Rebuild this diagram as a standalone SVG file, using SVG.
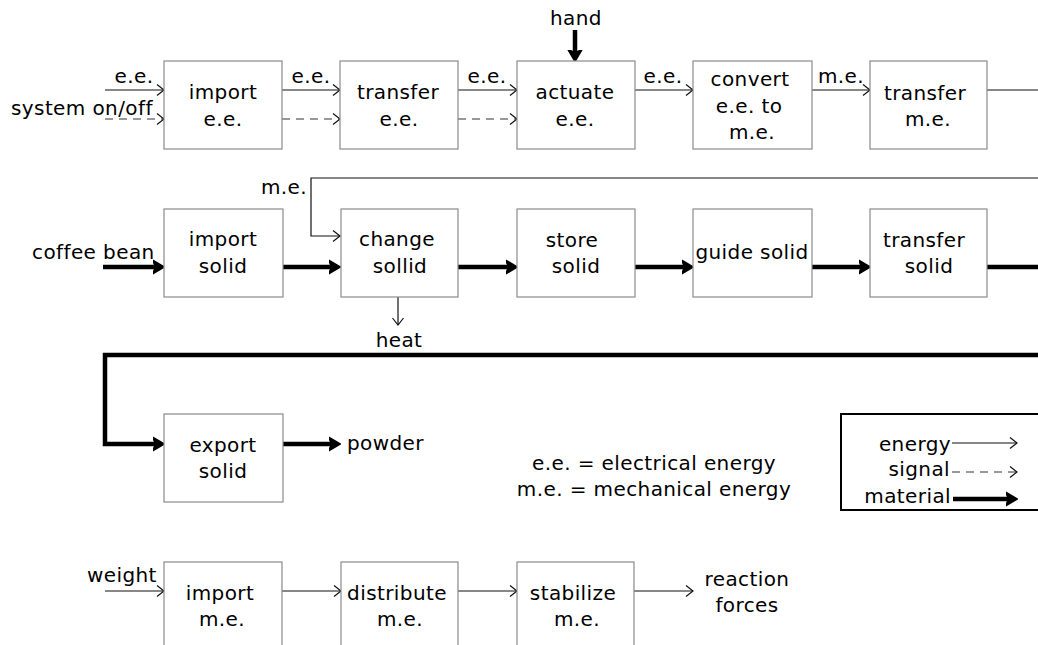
<svg xmlns="http://www.w3.org/2000/svg" width="1038" height="645" viewBox="0 0 1038 645">
<defs>
<style>
text{font-family:"DejaVu Sans","Liberation Sans",sans-serif;font-size:20px;letter-spacing:0.4px;fill:#000}
.m{text-anchor:middle}
.e{text-anchor:end}
.box{fill:#fff;stroke:#8a8a8a;stroke-width:1.2}
.en{fill:none;stroke:#111;stroke-width:1.2;marker-end:url(#open)}
.sig{fill:none;stroke:#333;stroke-width:1.2;stroke-dasharray:8,6;marker-end:url(#open)}
.mat{fill:none;stroke:#000;stroke-width:4.5;marker-end:url(#thick)}
</style>
<marker id="open" markerUnits="userSpaceOnUse" markerWidth="12" markerHeight="14" refX="9" refY="7" orient="auto">
<path d="M2,1.5 L9,7 L2,12.5" fill="none" stroke="#111" stroke-width="1.2"/>
</marker>
<marker id="thick" markerUnits="userSpaceOnUse" markerWidth="16" markerHeight="16" refX="8" refY="8" orient="auto">
<path d="M0,1.5 L11,8 L0,14.5 L3,8 Z" fill="#000" stroke="#000" stroke-width="2" stroke-linejoin="round"/>
</marker>
</defs>

<g id="connectors">
<path class="en" d="M105,90 H164"/>
<path class="sig" d="M105,119 H164"/>
<path class="en" d="M282,90 H340"/>
<path class="sig" d="M282,119 H340"/>
<path class="en" d="M458,90 H517"/>
<path class="sig" d="M458,119 H517"/>
<path class="en" d="M635,90 H693"/>
<path class="en" d="M812,90 H870"/>
<path class="en" d="M987,90 H1060 V178 H311 V236 H340"/>
<path class="mat" d="M575,30 V58"/>
<path class="mat" d="M103,267 H161"/>
<path class="mat" d="M283,267 H337"/>
<path class="mat" d="M458,267 H514"/>
<path class="mat" d="M635,267 H690"/>
<path class="mat" d="M812,267 H867"/>
<path class="mat" d="M987,267 H1060 V355 H105 V444 H161"/>
<path class="en" d="M398,297 V325"/>
<path class="mat" d="M283,444 H337"/>
<path class="en" d="M105,591 H164"/>
<path class="en" d="M282,591 H341"/>
<path class="en" d="M458,591 H517"/>
<path class="en" d="M634,591 H693"/>
</g>

<g id="n_import_ee"><rect class="box" x="164" y="61" width="118" height="88"/><text class="m" x="223" y="99">import</text><text class="m" x="223" y="126">e.e.</text></g>
<g id="n_transfer_ee"><rect class="box" x="340" y="61" width="118" height="88"/><text class="m" x="398" y="99">transfer</text><text class="m" x="399" y="126">e.e.</text></g>
<g id="n_actuate_ee"><rect class="box" x="517" y="61" width="118" height="88"/><text class="m" x="575" y="99">actuate</text><text class="m" x="575" y="126">e.e.</text></g>
<g id="n_convert"><rect class="box" x="693" y="61" width="119" height="88"/><text class="m" x="750" y="86">convert</text><text class="m" x="749" y="113">e.e. to</text><text class="m" x="752" y="139">m.e.</text></g>
<g id="n_transfer_me"><rect class="box" x="870" y="61" width="117" height="88"/><text class="m" x="925" y="100">transfer</text><text class="m" x="928" y="126">m.e.</text></g>

<g id="n_import_solid"><rect class="box" x="164" y="209" width="119" height="88"/><text class="m" x="223" y="246">import</text><text class="m" x="223" y="273">solid</text></g>
<g id="n_change_solid"><rect class="box" x="341" y="209" width="117" height="88"/><text class="m" x="397" y="246">change</text><text class="m" x="400" y="273">sollid</text></g>
<g id="n_store_solid"><rect class="box" x="517" y="209" width="118" height="88"/><text class="m" x="572" y="247">store</text><text class="m" x="576" y="273">solid</text></g>
<g id="n_guide_solid"><rect class="box" x="693" y="209" width="119" height="88"/><text class="m" x="752" y="259">guide solid</text></g>
<g id="n_transfer_solid"><rect class="box" x="870" y="209" width="117" height="88"/><text class="m" x="924" y="247">transfer</text><text class="m" x="929" y="273">solid</text></g>

<g id="n_export_solid"><rect class="box" x="164" y="414" width="119" height="88"/><text class="m" x="223" y="452">export</text><text class="m" x="223" y="478">solid</text></g>

<g id="n_import_me"><rect class="box" x="164" y="562" width="118" height="88"/><text class="m" x="220" y="600">import</text><text class="m" x="222" y="626">m.e.</text></g>
<g id="n_distribute_me"><rect class="box" x="341" y="562" width="117" height="88"/><text class="m" x="397" y="600">distribute</text><text class="m" x="400" y="626">m.e.</text></g>
<g id="n_stabilize_me"><rect class="box" x="517" y="562" width="117" height="88"/><text class="m" x="573" y="600">stabilize</text><text class="m" x="577" y="626">m.e.</text></g>

<g id="labels">
<text class="m" x="134" y="83">e.e.</text>
<text x="11" y="115">system on/off</text>
<text class="m" x="311" y="83">e.e.</text>
<text class="m" x="487" y="83">e.e.</text>
<text class="m" x="663" y="83">e.e.</text>
<text class="m" x="841" y="83">m.e.</text>
<text class="m" x="576" y="25">hand</text>
<text class="e" x="307" y="194">m.e.</text>
<text x="32" y="259">coffee bean</text>
<text class="m" x="399" y="347">heat</text>
<text x="347" y="450">powder</text>
<text x="87" y="582">weight</text>
<text class="m" x="747" y="586">reaction</text>
<text class="m" x="747" y="612">forces</text>
<text class="m" x="654" y="470">e.e. = electrical energy</text>
<text class="m" x="654" y="496">m.e. = mechanical energy</text>
</g>

<g id="legend">
<rect x="841" y="414" width="200" height="96" fill="none" stroke="#000" stroke-width="2"/>
<text class="e" x="951" y="451">energy</text>
<path class="en" d="M952,443 H1017"/>
<text class="e" x="950" y="476">signal</text>
<path class="sig" d="M952,472 H1017"/>
<text class="e" x="951" y="503">material</text>
<path class="mat" d="M953,499 H1014"/>
</g>
</svg>
